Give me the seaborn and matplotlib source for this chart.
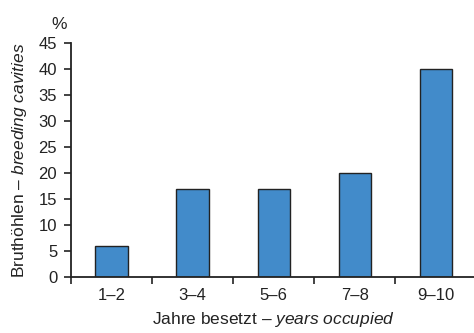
import matplotlib
matplotlib.use("Agg")
import matplotlib.pyplot as plt
import seaborn as sns
import pandas as pd

categories = ["1–2", "3–4", "5–6", "7–8", "9–10"]
values = [6, 17, 17, 20, 40]
yticks = [0, 5, 10, 15, 20, 25, 30, 35, 40, 45]

sns.set_theme(style="white")
plt.rcParams["font.family"] = ["Liberation Sans", "DejaVu Sans"]
plt.rcParams["mathtext.fontset"] = "custom"
plt.rcParams["mathtext.rm"] = "Liberation Sans"
plt.rcParams["mathtext.it"] = "Liberation Sans:italic"

df = pd.DataFrame({"cat": categories, "val": values})

fig = plt.figure(figsize=(4.74, 3.33), dpi=100)
ax = fig.add_axes([0.150, 0.168, 0.855, 0.703])
sns.barplot(data=df, x="cat", y="val", ax=ax, color="#428bca", saturation=1,
            width=0.4, edgecolor="#222222", linewidth=1.0)

ax.set_ylim(0, 45)
ax.set_xlim(-0.5, 4.5)
ax.set_yticks(yticks)
ax.set_yticklabels([str(t) for t in yticks], fontsize=12, color="#222222")
ax.set_xticks(range(len(categories)))
ax.set_xticklabels(categories, fontsize=12, color="#222222")
ax.set_xticks([-0.5, 0.5, 1.5, 2.5, 3.5, 4.5], minor=True)
ax.tick_params(axis="x", which="major", length=0, pad=8)
ax.tick_params(axis="x", which="minor", length=5, width=1.2, direction="out", color="#222222", bottom=True)
ax.tick_params(axis="y", length=5, width=1.2, direction="out", color="#222222", left=True, pad=5)

for s in ["top", "right"]:
    ax.spines[s].set_visible(False)
for s in ["left", "bottom"]:
    ax.spines[s].set_color("#222222")
    ax.spines[s].set_linewidth(1.3)

ax.set_xlabel(r"Jahre besetzt – $\mathit{years\ occupied}$", fontsize=12.5, color="#222222", labelpad=5)
ax.set_ylabel(r"Bruthöhlen – $\mathit{breeding\ cavities}$", fontsize=12.5, color="#222222", labelpad=7)
ax.text(-0.01, 1.045, "%", transform=ax.transAxes, ha="right", va="bottom", fontsize=12.5, color="#222222")

fig.savefig("out.png", dpi=100)
